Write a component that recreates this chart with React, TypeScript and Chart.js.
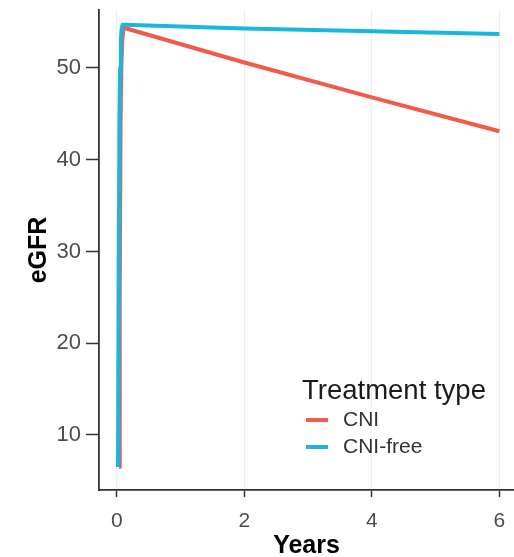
import React, { useEffect, useRef } from "react";
import { Chart, registerables } from "chart.js";

Chart.register(...registerables);

const cniYears = [0.035, 0.045, 0.058, 0.07, 0.085, 0.1, 0.12, 0.15, 2, 4, 6];
const cniEgfr = [6.5, 25, 44, 50, 53, 54.1, 54.4, 54.3, 50.6, 46.8, 43.1];
const freeYears = [0.018, 0.028, 0.04, 0.05, 0.062, 0.075, 0.09, 0.12, 2, 4, 6];
const freeEgfr = [6.5, 25, 44, 50, 53, 54.3, 54.7, 54.7, 54.3, 54.0, 53.7];
const xTicks = [0, 2, 4, 6];
const yTicks = [10, 20, 30, 40, 50];
const seriesNames = ["CNI", "CNI-free"];
const legendTitle = "Treatment type";

const RED = "#F05B4B";
const BLUE = "#1AB6E2";
const FONT = "'Liberation Sans', Arial, sans-serif";

const legendPlugin = {
  id: "insideLegend",
  afterDraw(chart: any) {
    const ctx = chart.ctx;
    ctx.save();
    ctx.textBaseline = "middle";
    ctx.textAlign = "left";
    ctx.fillStyle = "#1a1a1a";
    ctx.font = `27.5px ${FONT}`;
    ctx.fillText(legendTitle, 302, 391);
    const colors = [RED, BLUE];
    const ys = [420, 447];
    seriesNames.forEach((name, i) => {
      ctx.strokeStyle = colors[i];
      ctx.lineWidth = 4;
      ctx.beginPath();
      ctx.moveTo(306, ys[i]);
      ctx.lineTo(328, ys[i]);
      ctx.stroke();
      ctx.fillStyle = "#333333";
      ctx.font = `21px ${FONT}`;
      ctx.fillText(name, 343, ys[i]);
    });
    ctx.restore();
  },
};

export default function App() {
  const ref = useRef<HTMLCanvasElement>(null);
  useEffect(() => {
    if (!ref.current) return;
    const chart = new Chart(ref.current, {
      type: "line",
      data: {
        datasets: [
          {
            label: seriesNames[1],
            data: freeYears.map((x, i) => ({ x, y: freeEgfr[i] })),
            borderColor: BLUE,
            borderWidth: 4,
            pointRadius: 0,
            tension: 0,
            borderJoinStyle: "round",
          },
          {
            label: seriesNames[0],
            data: cniYears.map((x, i) => ({ x, y: cniEgfr[i] })),
            borderColor: RED,
            borderWidth: 4,
            pointRadius: 0,
            tension: 0,
            borderJoinStyle: "round",
          },
        ],
      },
      options: {
        animation: false,
        responsive: false,
        maintainAspectRatio: false,
        layout: { padding: { top: 10, left: 0, right: 0, bottom: 0 } },
        plugins: { legend: { display: false }, tooltip: { enabled: false } },
        scales: {
          x: {
            type: "linear",
            min: -0.28,
            max: 6.23,
            afterBuildTicks: (axis: any) => {
              axis.ticks = xTicks.map((v) => ({ value: v }));
            },
            afterFit: (axis: any) => {
              axis.height = 67;
              axis.paddingLeft = 0;
              axis.paddingRight = 0;
            },
            grid: {
              color: "#eeeeee",
              lineWidth: 1,
              tickColor: "#333333",
              tickLength: 7,
              tickWidth: 1.5,
            },
            border: { display: true, color: "#333333", width: 1.8 },
            ticks: {
              color: "#4d4d4d",
              font: { size: 21, family: FONT },
              padding: 12,
              maxRotation: 0,
            },
            title: {
              display: true,
              text: "Years",
              color: "#000000",
              font: { size: 25, weight: "bold", family: FONT, lineHeight: 0.8 },
              padding: { top: 0, bottom: 1 },
            },
          },
          y: {
            type: "linear",
            min: 4.0,
            max: 56.32,
            afterBuildTicks: (axis: any) => {
              axis.ticks = yTicks.map((v) => ({ value: v }));
            },
            afterFit: (axis: any) => {
              axis.width = 99;
              axis.paddingTop = 0;
              axis.paddingBottom = 0;
            },
            grid: {
              drawOnChartArea: false,
              tickColor: "#333333",
              tickLength: 13,
              tickWidth: 1.5,
            },
            border: { display: true, color: "#333333", width: 1.8 },
            ticks: {
              color: "#4d4d4d",
              font: { size: 22, family: FONT },
              padding: 5,
            },
            title: {
              display: true,
              text: "eGFR",
              color: "#000000",
              font: { size: 25, weight: "bold", family: FONT, lineHeight: 1.2 },
              padding: { top: 24, bottom: 0 },
            },
          },
        },
      },
      plugins: [legendPlugin],
    });
    return () => chart.destroy();
  }, []);
  return (
    <div style={{ position: "fixed", top: 0, left: 0, width: "514px", height: "557px" }}>
      <canvas ref={ref} width={514} height={557} style={{ display: "block" }} />
    </div>
  );
}
